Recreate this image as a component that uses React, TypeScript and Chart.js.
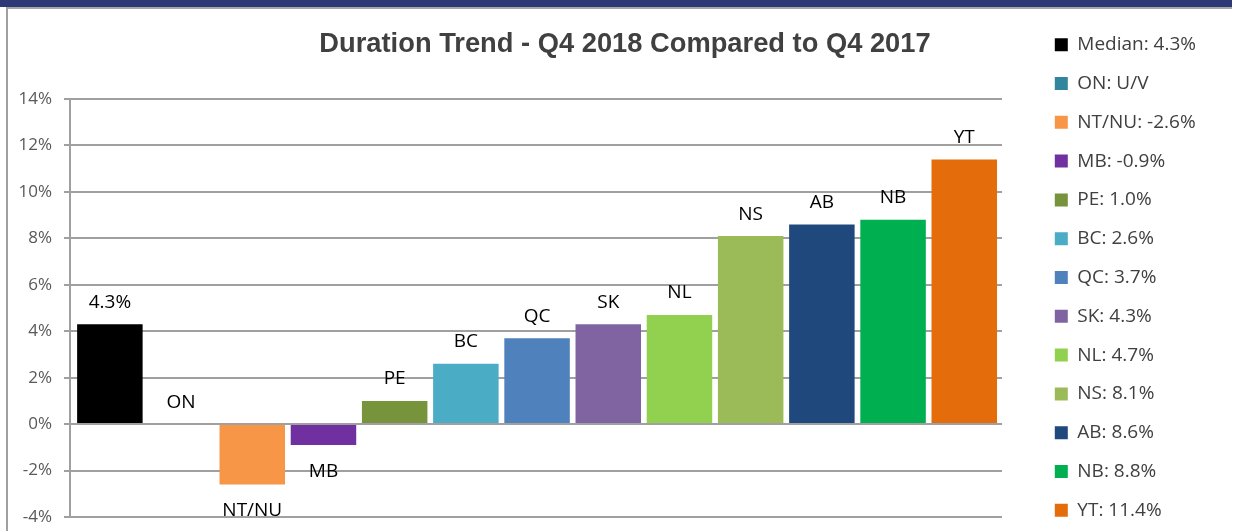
import React, { useEffect, useRef } from "react";
import { Chart, registerables } from "chart.js";

Chart.register(...registerables);

const chartTitle = "Duration Trend - Q4 2018 Compared to Q4 2017";
const categories = ["Median", "ON", "NT/NU", "MB", "PE", "BC", "QC", "SK", "NL", "NS", "AB", "NB", "YT"];
const values: (number | null)[] = [4.3, null, -2.6, -0.9, 1.0, 2.6, 3.7, 4.3, 4.7, 8.1, 8.6, 8.8, 11.4];
const barLabels = ["4.3%", "ON", "NT/NU", "MB", "PE", "BC", "QC", "SK", "NL", "NS", "AB", "NB", "YT"];
const colors = [
  "#000000", "#31859c", "#f79646", "#7030a0", "#77933c", "#4bacc6", "#4f81bd",
  "#8064a2", "#92d050", "#9bbb59", "#1f497d", "#00b050", "#e46c0a",
];
const yTicks = [-4, -2, 0, 2, 4, 6, 8, 10, 12, 14];

const LABEL_FONT = '19px "Open Sans", sans-serif';

const fmt = (v: number | null) => (v === null ? "U/V" : `${v.toFixed(1)}%`);

const barLabelPlugin = {
  id: "barLabels",
  afterDatasetsDraw(chart: any) {
    const ctx = chart.ctx;
    const xs = chart.scales.x;
    const ys = chart.scales.y;
    ctx.save();
    ctx.font = LABEL_FONT;
    ctx.fillStyle = "#000000";
    ctx.textAlign = "center";
    ctx.textBaseline = "alphabetic";
    values.forEach((v, i) => {
      const x = xs.getPixelForValue(i);
      const y = ys.getPixelForValue(v === null ? 0 : v);
      const by = v !== null && v < 0 ? y + 31.6 : y - 16.5;
      ctx.fillText(barLabels[i], x, by);
    });
    ctx.restore();
  },
};

const titlePlugin = {
  id: "drawnTitle",
  afterDraw(chart: any) {
    const ctx = chart.ctx;
    ctx.save();
    ctx.font = 'bold 27.3px "Liberation Sans", Arial, sans-serif';
    ctx.fillStyle = "#404040";
    ctx.textAlign = "center";
    ctx.textBaseline = "alphabetic";
    ctx.fillText(chart.options.plugins.title.text, chart.width / 2 + 4, 42.7);
    ctx.restore();
  },
};

export default function App() {
  const canvasRef = useRef<HTMLCanvasElement | null>(null);

  useEffect(() => {
    if (!canvasRef.current) return;
    const chart = new Chart(canvasRef.current, {
      type: "bar",
      data: {
        labels: categories,
        datasets: [
          {
            label: "Duration Trend",
            data: values.map((v, i) => ({ x: i, y: v })) as any,
            backgroundColor: colors,
            borderWidth: 0,
            barPercentage: 0.92,
            categoryPercentage: 1.0,
          },
        ],
      },
      options: {
        animation: false,
        responsive: false,
        events: [],
        layout: { padding: { top: 6.4, right: 39, bottom: 0, left: 0 } },
        scales: {
          x: {
            type: "linear",
            position: "bottom",
            min: -0.56,
            max: 12.53,
            offset: false,
            display: true,
            ticks: { display: false },
            grid: { display: false },
            border: { display: false },
            afterFit: (scale: any) => {
              scale.height = 40;
            },
          },
          y: {
            type: "linear",
            position: "left",
            min: -4,
            max: 14,
            afterBuildTicks: (scale: any) => {
              scale.ticks = yTicks.map((v) => ({ value: v }));
            },
            ticks: {
              color: "#595959",
              font: { family: '"Open Sans", sans-serif', size: 17 },
              padding: 12,
              callback: (v: any) => `${v}%`,
            },
            grid: { color: "#a0a0a0", lineWidth: 2, tickLength: 6, drawTicks: true },
            border: { color: "#a0a0a0", width: 2 },
            afterFit: (scale: any) => {
              scale.width = 62;
            },
          },
          y2: {
            type: "linear",
            position: "right",
            display: true,
            ticks: { display: false },
            grid: { display: false },
            border: { display: false },
            afterFit: (scale: any) => {
              scale.width = 33;
            },
          },
        },
        plugins: {
          title: {
            display: true,
            text: chartTitle,
            fullSize: false,
            position: "top",
            color: "rgba(0,0,0,0)",
            font: { size: 26, lineHeight: 1.2 },
            padding: { top: 26, bottom: 26.4 },
          },
          legend: {
            display: true,
            position: "right",
            align: "start",
            maxWidth: 160,
            labels: {
              boxWidth: 13,
              boxHeight: 13,
              padding: 19.8,
              color: "#404040",
              font: { family: '"Open Sans", sans-serif', size: 19 },
              generateLabels: () =>
                categories.map((c, i) => ({
                  text: `${c}: ${fmt(values[i])}`,
                  fillStyle: colors[i],
                  strokeStyle: colors[i],
                  lineWidth: 0,
                  hidden: false,
                  index: i,
                  fontColor: "#404040",
                })),
            },
          },
          tooltip: { enabled: false },
        },
      },
      plugins: [barLabelPlugin, titlePlugin],
    });
    return () => chart.destroy();
  }, []);

  return (
    <div
      style={{
        position: "absolute",
        left: 0,
        top: 0,
        width: 1234,
        height: 531,
        overflow: "hidden",
        background: "#ffffff",
      }}
    >
      <div style={{ position: "absolute", left: 0, top: 0, width: 1232, height: 7, background: "#2e3876" }} />
      <div style={{ position: "absolute", left: 6, top: 7, width: 1226, height: 2, background: "#a6a6a6" }} />
      <div style={{ position: "absolute", left: 6, top: 7, width: 2, height: 524, background: "#a0a0a0" }} />
      <canvas
        ref={canvasRef}
        width={1226}
        height={548}
        style={{ position: "absolute", left: 8, top: 9, width: 1226, height: 548 }}
      />
    </div>
  );
}
